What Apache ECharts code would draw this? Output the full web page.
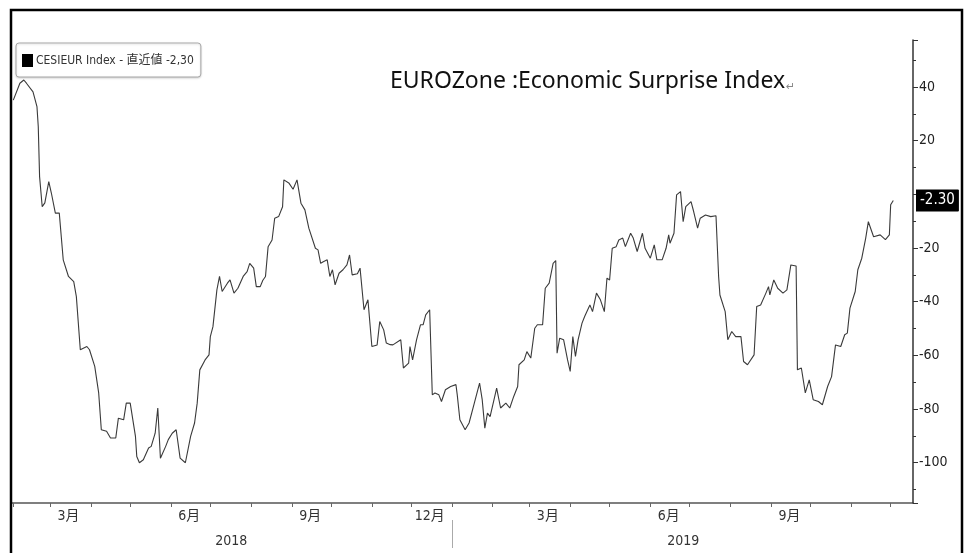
<!DOCTYPE html>
<html><head><meta charset="utf-8">
<script src="https://cdn.jsdelivr.net/npm/echarts@6/dist/echarts.min.js"></script>
<style>html,body{margin:0;padding:0;background:#fff}#c{width:975px;height:553px}</style>
</head><body><div id="c"></div>
<script>
const seriesName = 'CESIEUR Index - 直近値 -2,30';
const chartTitle = 'EUROZone :Economic Surprise Index';
const axisStart = '2018-01-31';
const axisEnd = '2019-12-18';
const quarterMonths = ['03', '06', '09', '12'];
const monthLabelDay = '15';
const yMin = -115, yMax = 57.5;

const dates = [
'2018-02-01','2018-02-06','2018-02-09','2018-02-11','2018-02-16','2018-02-19','2018-02-20','2018-02-21','2018-02-23','2018-02-25','2018-02-28',
'2018-03-02','2018-03-05','2018-03-08','2018-03-11','2018-03-15','2018-03-19','2018-03-21','2018-03-24','2018-03-29','2018-03-31',
'2018-04-04','2018-04-07','2018-04-09','2018-04-13','2018-04-16','2018-04-20','2018-04-22','2018-04-26','2018-04-28',
'2018-05-01','2018-05-05','2018-05-06','2018-05-08','2018-05-11','2018-05-15','2018-05-17','2018-05-20','2018-05-22','2018-05-24','2018-05-28','2018-05-30',
'2018-06-02','2018-06-05','2018-06-08','2018-06-12','2018-06-16','2018-06-19','2018-06-21','2018-06-23','2018-06-27','2018-06-30',
'2018-07-01','2018-07-03','2018-07-06','2018-07-08','2018-07-10','2018-07-14','2018-07-16','2018-07-19','2018-07-22','2018-07-26','2018-07-29','2018-07-31',
'2018-08-03','2018-08-05','2018-08-08','2018-08-10','2018-08-12','2018-08-14','2018-08-17','2018-08-19','2018-08-22','2018-08-25','2018-08-26','2018-08-30',
'2018-09-02','2018-09-05','2018-09-08','2018-09-11','2018-09-14','2018-09-19','2018-09-21','2018-09-23','2018-09-25','2018-09-28','2018-09-30',
'2018-10-02','2018-10-04','2018-10-07','2018-10-10','2018-10-13','2018-10-15','2018-10-17','2018-10-21','2018-10-23','2018-10-26','2018-10-29',
'2018-11-01','2018-11-05','2018-11-07','2018-11-10','2018-11-12','2018-11-15','2018-11-17','2018-11-23','2018-11-25','2018-11-29','2018-11-30',
'2018-12-02','2018-12-05','2018-12-08','2018-12-10','2018-12-12','2018-12-15','2018-12-17','2018-12-19','2018-12-22','2018-12-24','2018-12-27','2018-12-31',
'2019-01-04','2019-01-05','2019-01-07','2019-01-11','2019-01-14','2019-01-18','2019-01-22','2019-01-24','2019-01-26','2019-01-28','2019-01-30',
'2019-02-02','2019-02-04','2019-02-07','2019-02-11','2019-02-14','2019-02-17','2019-02-20','2019-02-21','2019-02-25','2019-02-27',
'2019-03-02','2019-03-05','2019-03-07','2019-03-11','2019-03-13','2019-03-16','2019-03-19','2019-03-21','2019-03-22','2019-03-24','2019-03-27','2019-03-30',
'2019-04-01','2019-04-03','2019-04-05','2019-04-07','2019-04-10','2019-04-12','2019-04-16','2019-04-18','2019-04-21','2019-04-24','2019-04-27','2019-04-29',
'2019-05-01','2019-05-03','2019-05-06','2019-05-08','2019-05-11','2019-05-13','2019-05-17','2019-05-19','2019-05-22','2019-05-26','2019-05-28',
'2019-06-01','2019-06-04','2019-06-06','2019-06-10','2019-06-13','2019-06-15','2019-06-16','2019-06-19','2019-06-21','2019-06-24','2019-06-26','2019-06-28',
'2019-07-02','2019-07-04','2019-07-07','2019-07-09','2019-07-13','2019-07-17','2019-07-21','2019-07-23','2019-07-24','2019-07-28','2019-07-30',
'2019-08-02','2019-08-05','2019-08-09','2019-08-11','2019-08-14','2019-08-19','2019-08-21','2019-08-24','2019-08-28','2019-08-30','2019-08-31',
'2019-09-03','2019-09-06','2019-09-10','2019-09-13','2019-09-16','2019-09-20','2019-09-21','2019-09-24','2019-09-27','2019-09-30',
'2019-10-03','2019-10-07','2019-10-10','2019-10-14','2019-10-17','2019-10-20','2019-10-24','2019-10-27','2019-10-29','2019-10-31',
'2019-11-04','2019-11-06','2019-11-09','2019-11-12','2019-11-14','2019-11-18','2019-11-23','2019-11-27','2019-11-30',
'2019-12-01','2019-12-03'
];
const values = [
35.1,41.4,42.6,41.4,38.2,32.7,25.2,6.6,-4.6,-3.2,4.7,
0.4,-7,-7,-24.4,-30.6,-32.5,-38.1,-57.9,-56.7,-57.9,
-64.1,-74,-87.7,-88.3,-90.8,-90.8,-83.4,-84,-77.8,
-77.8,-90.2,-97.7,-100,-98.9,-94.5,-93.9,-89,-79.6,-98.3,-93.9,-91.4,
-89,-87.7,-98.3,-100,-90.2,-85.2,-77.8,-65.4,-61.7,-59.8,
-53,-49.3,-35.6,-30.6,-36.2,-33.1,-31.9,-36.8,-35,-30.6,-28.8,-25.7,
-27.5,-34.4,-34.4,-32,-30.6,-19.5,-17,-8.9,-8.3,-4.6,5.4,4.1,
1.9,5.4,-3.3,-5.8,-12.6,-20.1,-20.7,-25.7,-25.1,-24.4,-30.6,
-28.1,-33.7,-29.4,-28.1,-26.3,-22.6,-30,-29.6,-27.5,-43,-39.3,
-56.7,-56.1,-47.4,-50.5,-55.4,-56,-56.1,-54.2,-64.7,-62.9,-56.7,
-61.7,-54.2,-48.6,-48.6,-44.9,-43,-74.7,-74,-74.7,-77.2,-72.8,-71.6,
-70.9,-74.7,-84,-87.7,-85.2,-77.8,-70.3,-76.5,-87.1,-81.5,-82.8,
-76.5,-72.2,-79.6,-77.8,-79.6,-75.3,-71.6,-63.5,-61.7,-58.6,
-61,-49.9,-48.6,-48.6,-35,-33.1,-25.7,-24.7,-59.2,-53.6,-54.2,-61.7,
-66,-53,-60.4,-54.2,-48,-45.5,-41.2,-43.7,-36.8,-39.3,-43.7,-31.2,
-31.9,-20.1,-19.5,-17,-16.3,-19.5,-14.5,-16.3,-21.3,-14.5,-20.1,
-23.8,-18.8,-24.4,-24.4,-20.1,-15.1,-18.2,-14.5,-0.2,1,-10.2,-4.6,
-2.7,-6.4,-12.6,-8.9,-7.7,-8.3,-8,-30.6,-37.5,-43.7,-54.2,
-51.1,-53,-53,-62.3,-63.5,-59.8,-41.8,-41.2,-36.8,-34.4,-37.5,
-31.9,-35,-36.8,-35.6,-26.3,-26.7,-65.4,-64.7,-74,-69.1,
-76.5,-77.2,-78.4,-71.6,-67.9,-56.1,-56.7,-52.3,-51.7,-42.4,
-36.2,-28.1,-23.8,-16.3,-10.2,-15.8,-15.1,-16.9,-15.1,
-3.9,-2.3
];

// daily category axis
const days = [];
for (let t = Date.parse(axisStart + 'T00:00:00Z'); t <= Date.parse(axisEnd + 'T00:00:00Z'); t += 86400000) {
  days.push(new Date(t).toISOString().slice(0, 10));
}
// middle of the visible part of each year (for the year labels)
const yearSpan = {};
days.forEach((d, i) => {
  const y = d.slice(0, 4);
  if (!yearSpan[y]) yearSpan[y] = [i, i]; else yearSpan[y][1] = i;
});
const yearMidIdx = new Set(Object.values(yearSpan).map(s => Math.round((s[0] + s[1]) / 2)));
// month labels only for months that lie fully on the axis
function monthFullyVisible(i) {
  const m = days[i].slice(0, 7);
  const first = days.indexOf(m + '-01');
  const nextMonthIdx = days.findIndex((d, k) => k > i && d.slice(0, 7) !== m);
  return first >= 0 && nextMonthIdx >= 0;
}

const lastValue = values[values.length - 1];
const NARROW = "'Liberation Sans Narrow','DejaVu Sans Condensed','Noto Sans CJK JP',sans-serif";

const chart = echarts.init(document.getElementById('c'), null, {renderer: 'canvas'});
chart.setOption({
  animation: false,
  backgroundColor: '#fff',
  title: {
    text: '{a|' + chartTitle + '}{b|↵}',
    left: 385, top: 65,
    textStyle: {
      fontWeight: 'normal',
      rich: {
        a: {fontFamily: "'Noto Sans', sans-serif", fontSize: 23, fontWeight: 'normal', color: '#111'},
        b: {fontFamily: "'DejaVu Sans', sans-serif", fontSize: 11, fontWeight: 'normal', color: '#888', verticalAlign: 'bottom', padding: [8, 0, 0, 1]}
      }
    }
  },
  legend: {
    left: 16, top: 43,
    icon: 'rect', itemWidth: 11, itemHeight: 13, itemGap: 4,
    padding: [11, 7, 10, 6],
    backgroundColor: '#fff', borderColor: '#a8a8a8', borderWidth: 1, borderRadius: 3,
    shadowColor: 'rgba(0,0,0,0.15)', shadowBlur: 2, shadowOffsetY: 1,
    textStyle: {fontFamily: NARROW, fontSize: 12, color: '#333', padding: [0, 0, 0, -2]},
    data: [{name: seriesName, itemStyle: {color: '#000'}}]
  },
  grid: {left: 12, right: 62, top: 40, bottom: 50, containLabel: false},
  xAxis: [{
    type: 'category', data: days, boundaryGap: false, position: 'bottom',
    axisLine: {show: true, onZero: false, lineStyle: {color: '#555', width: 1.5}},
    axisTick: {show: true, length: 4, lineStyle: {color: '#666'}, interval: (i, v) => v.slice(8) === '01'},
    axisLabel: {
      interval: (i, v) => v.slice(8) === monthLabelDay && quarterMonths.includes(v.slice(5, 7)) && monthFullyVisible(i),
      formatter: v => parseInt(v.slice(5, 7), 10) + '月',
      fontFamily: NARROW, fontSize: 14, color: '#333', margin: 6
    },
    splitLine: {show: false}
  }, {
    type: 'category', data: days, boundaryGap: false, position: 'bottom', offset: 17,
    axisLine: {show: false, onZero: false},
    axisTick: {show: true, length: 28, lineStyle: {color: '#aaa'}, interval: (i, v) => v.slice(5) === '01-01'},
    axisLabel: {
      interval: (i) => yearMidIdx.has(i),
      formatter: v => v.slice(0, 4),
      fontFamily: NARROW, fontSize: 14, color: '#333', margin: 14
    },
    splitLine: {show: false}
  }],
  yAxis: {
    type: 'value', position: 'right', min: yMin, max: yMax, splitNumber: 8, z: 1,
    axisLine: {show: true, onZero: false, lineStyle: {color: '#333', width: 1.5}},
    axisTick: {show: true, length: 5, lineStyle: {color: '#333'}},
    minorTick: {show: true, splitNumber: 2, length: 3, lineStyle: {color: '#333'}},
    axisLabel: {
      showMinLabel: false, showMaxLabel: false,
      // the last-value tag covers the tick label next to it
      formatter: v => (Math.abs(v - lastValue) < 8 ? '' : String(v)),
      fontFamily: NARROW, fontSize: 14, color: '#222', margin: 6
    },
    splitLine: {show: false}
  },
  series: [{
    name: seriesName, type: 'line', xAxisIndex: 0, z: 5,
    data: dates.map((d, i) => [d, values[i]]),
    showSymbol: false, symbol: 'none',
    clip: false,
    itemStyle: {color: '#000'},
    lineStyle: {color: '#3a3a3a', width: 1.1},
    markLine: {
      silent: true, symbol: 'none', z: 20,
      lineStyle: {color: 'rgba(0,0,0,0)', width: 0},
      label: {
        show: true,
        position: 'end', distance: 3,
        formatter: p => Number(p.value).toFixed(2),
        backgroundColor: '#000', color: '#fff', padding: [4, 4, 3, 4],
        borderRadius: [0, 1, 1, 0],
        fontFamily: NARROW, fontSize: 15
      },
      data: [{yAxis: lastValue}]
    }
  }],
  graphic: [{
    type: 'rect', silent: true, z: 100,
    shape: {x: 11, y: 10, width: 951, height: 570},
    style: {fill: 'none', stroke: '#000', lineWidth: 2.5}
  }]
});
</script></body></html>
